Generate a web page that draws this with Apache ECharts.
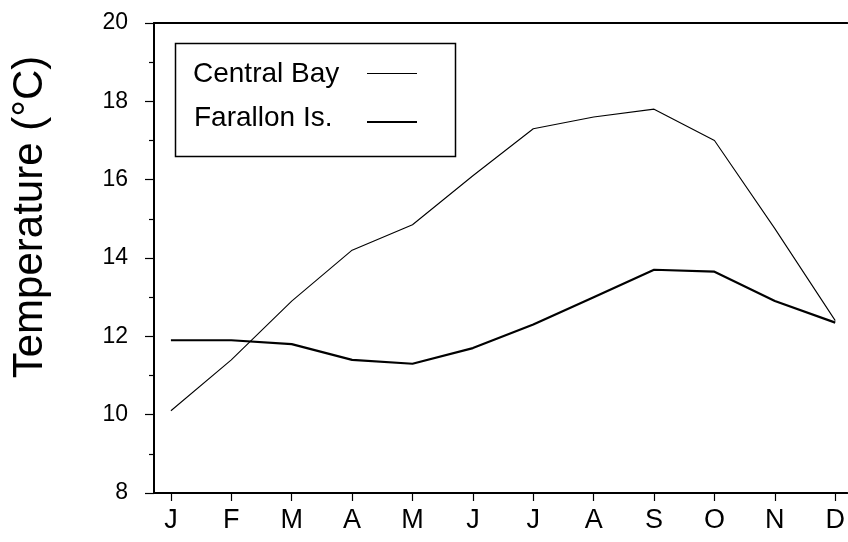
<!DOCTYPE html>
<html>
<head>
<meta charset="utf-8">
<script src="https://cdn.jsdelivr.net/npm/echarts@6/dist/echarts.min.js"></script>
<style>
    html, body { margin: 0; padding: 0; background: #fff; }
    #chart { width: 848px; height: 542px; }
</style>
</head>
<body>
<div id="chart"></div>
<script>
// 월 (x축)
const months = ['J', 'F', 'M', 'A', 'M', 'J', 'J', 'A', 'S', 'O', 'N', 'D'];
// 수온 데이터
const centralBay = [10.1, 11.4, 12.9, 14.2, 14.85, 16.1, 17.3, 17.6, 17.8, 17.0, 14.75, 12.4];
const farallonIs = [11.9, 11.9, 11.8, 11.4, 11.3, 11.7, 12.3, 13.0, 13.7, 13.65, 12.9, 12.35];
const seriesNames = ['Central Bay', 'Farallon Is.'];

const font = 'Liberation Sans, Arial, sans-serif';
const chart = echarts.init(document.getElementById('chart'));

const toPairs = (arr) => arr.map((v, i) => [i, v]);
const monthIdx = months.map((m, i) => i);

const option = {
    animation: false,
    backgroundColor: '#fff',
    textStyle: { fontFamily: font, color: '#000' },
    grid: { left: 154, right: 0, top: 23, bottom: 49 },
    // 범례 (박스 + 텍스트 + 선 샘플)
    graphic: [
        {
            type: 'rect',
            shape: { x: 175.5, y: 43.5, width: 280, height: 113 },
            style: { fill: 'none', stroke: '#000', lineWidth: 1.5 },
            z: 10,
        },
        {
            type: 'text',
            left: 193,
            top: 60,
            style: { text: seriesNames[0], font: '28px ' + font, fill: '#000' },
            z: 10,
        },
        {
            type: 'text',
            left: 194,
            top: 104,
            style: { text: seriesNames[1], font: '28px ' + font, fill: '#000' },
            z: 10,
        },
        {
            type: 'line',
            shape: { x1: 367, y1: 73.5, x2: 417, y2: 73.5 },
            style: { stroke: '#000', lineWidth: 1.2 },
            z: 10,
        },
        {
            type: 'line',
            shape: { x1: 367, y1: 122, x2: 417, y2: 122 },
            style: { stroke: '#000', lineWidth: 2 },
            z: 10,
        },
        // y축 제목
        {
            type: 'text',
            x: 9,
            y: 217,
            rotation: Math.PI / 2,
            style: {
                text: 'Temperature (°C)',
                font: '42px ' + font,
                fill: '#000',
                align: 'center',
                verticalAlign: 'top',
            },
            z: 10,
        },
    ],
    xAxis: [
        {
            type: 'value',
            min: -0.28,
            max: 11.2,
            axisLine: { show: true, onZero: false, lineStyle: { color: '#000', width: 2 } },
            axisTick: {
                show: true,
                inside: false,
                length: 8,
                lineStyle: { color: '#000', width: 1.2 },
                customValues: monthIdx,
            },
            axisLabel: {
                fontSize: 27,
                color: '#000',
                margin: 14,
                customValues: monthIdx,
                formatter: (v) => months[Math.round(v)] || '',
            },
            splitLine: { show: false },
        },
        {
            type: 'value',
            position: 'top',
            min: -0.28,
            max: 11.2,
            axisLine: { show: true, onZero: false, lineStyle: { color: '#000', width: 2 } },
            axisTick: { show: false },
            axisLabel: { show: false },
            splitLine: { show: false },
        },
    ],
    yAxis: {
        type: 'value',
        min: 8,
        max: 20,
        interval: 2,
        axisLine: { show: true, onZero: false, lineStyle: { color: '#000', width: 2 } },
        axisTick: { show: true, length: 9, lineStyle: { color: '#000', width: 1.2 } },
        minorTick: { show: true, splitNumber: 2, length: 5, lineStyle: { color: '#000', width: 1.2 } },
        axisLabel: {
            fontSize: 23,
            color: '#000',
            margin: 26,
        },
        splitLine: { show: false },
    },
    series: [
        {
            name: seriesNames[0],
            type: 'line',
            xAxisIndex: 0,
            data: toPairs(centralBay),
            symbol: 'none',
            color: '#000',
            lineStyle: { color: '#000', width: 1.1 },
        },
        {
            name: seriesNames[1],
            type: 'line',
            xAxisIndex: 0,
            data: toPairs(farallonIs),
            symbol: 'none',
            color: '#000',
            lineStyle: { color: '#000', width: 2.2 },
        },
    ],
};

chart.setOption(option);
</script>
</body>
</html>
